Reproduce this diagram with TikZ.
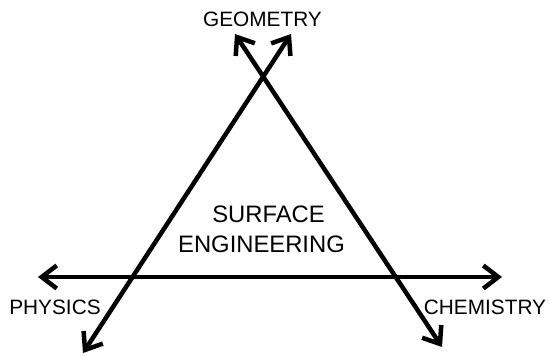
\documentclass[tikz,border=0pt]{standalone}
\usepackage{fontspec}
\setmainfont{Liberation Sans}
\usetikzlibrary{arrows.meta}
\tikzset{barb/.tip={Straight Barb[length=15pt, width=23pt]}}
\begin{document}
\begin{tikzpicture}[x=1pt, y=-1pt, line width=4.5pt,
    every node/.style={inner sep=0pt},
    label/.style={font=\fontsize{20.8}{24}\selectfont},
    core/.style={font=\fontsize{23.8}{28}\selectfont}]
  \useasboundingbox (0,0) rectangle (549,356);
  \coordinate (PL) at (38,277);
  \coordinate (CR) at (502,277);
  \coordinate (AB) at (83,353);
  \coordinate (AT) at (291,34);
  \coordinate (BT) at (235,34);
  \coordinate (BB) at (442,347);

  \draw[barb-barb] (PL)--(CR);
  \draw[barb-barb] (AB)--(AT);
  \draw[barb-barb] (BT)--(BB);

  \node[label] (geo)  at (262.5,19.5) {GEOMETRY};
  \node[label] (phy)  at (55,307.5)   {PHYSICS};
  \node[label] (chem) at (485,307.5)  {CHEMISTRY};
  \node[core]  (surf) at (268.5,214.5) {SURFACE};
  \node[core]  (eng)  at (261.5,244.7) {ENGINEERING};
\end{tikzpicture}
\end{document}
